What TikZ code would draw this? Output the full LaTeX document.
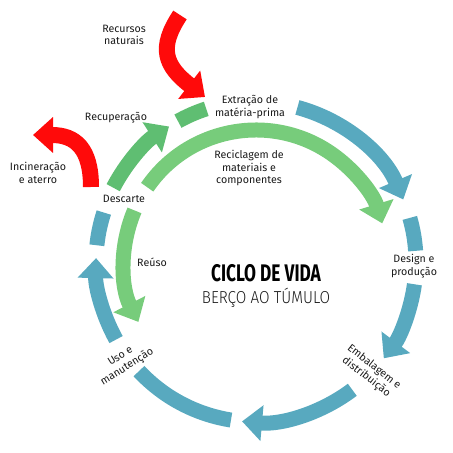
\documentclass[tikz,border=0pt]{standalone}
\usepackage{fontspec}
\setmainfont{Fira Sans}
\newfontfamily\titlefont{Fira Sans}[FakeStretch=0.72]
\newfontfamily\subtitlefont{Fira Sans Light}[FakeStretch=0.88]
\usetikzlibrary{arrows.meta,calc}
\definecolor{CycleBlue}{HTML}{58A9BF}
\definecolor{CycleGreen}{HTML}{5FBE72}
\definecolor{CycleLightGreen}{HTML}{77CC7B}
\definecolor{CycleRed}{HTML}{FF0A0A}
\definecolor{CycleText}{HTML}{1A1A1A}

\begin{document}
\begin{tikzpicture}[x=0.75pt,y=0.75pt,
    band/.style={line width=11.25pt},
    bigtip/.style={-{Triangle[width=26pt,length=15pt]}},
    lbl/.style={text=CycleText,font=\fontsize{8}{9.5}\selectfont,align=center,inner sep=1pt}]
  \useasboundingbox (0,0) rectangle (453,453);
  \coordinate (C) at (256,191);
  % anel azul
  \draw[CycleBlue,band,bigtip] ($(C)+(75:160)$) arc[start angle=75,end angle=23,radius=160];
  \draw[CycleBlue,band] ($(C)+(16:160)$) arc[start angle=16,end angle=4,radius=160];
  \draw[CycleBlue,band,bigtip] ($(C)+(-8:160)$) arc[start angle=-8,end angle=-37,radius=160];
  \draw[CycleBlue,band,bigtip] ($(C)+(-53:160)$) arc[start angle=-53,end angle=-95,radius=160];
  \draw[CycleBlue,band] ($(C)+(-99:160)$) arc[start angle=-99,end angle=-137,radius=160];
  \draw[CycleBlue,band,bigtip] ($(C)+(209:160)$) arc[start angle=209,end angle=178.6,radius=160];
  \draw[CycleBlue,band] ($(C)+(174:160)$) arc[start angle=174,end angle=162,radius=160];
  % retornos verdes
  \draw[CycleGreen,band,bigtip] ($(C)+(152.5:161)$) arc[start angle=152.5,end angle=122.7,radius=161];
  \draw[CycleGreen,band] ($(C)+(119:161)$) arc[start angle=119,end angle=108,radius=161];
  \draw[CycleLightGreen,band,bigtip] ($(C)+(145.5:132)$) arc[start angle=145.5,end angle=17,radius=132];
  \draw[CycleLightGreen,band,bigtip] ($(C)+(157:132)$) arc[start angle=157,end angle=207,radius=132];
  % entradas e saidas
  \draw[CycleRed,line width=12pt,bigtip] (180,438) .. controls (158,405) and (165,387) .. (205,356);
  \draw[CycleRed,line width=12pt,bigtip] (91,266) .. controls (91,305) and (75,318) .. (33,318);
  % textos
  \node[lbl] (recursos) at (124,418) {Recursos\\naturais};
  \node[lbl] (incineracao) at (38,280) {Incineração\\e aterro};
  \node[lbl] (recuperacao) at (116,335) {Recuperação};
  \node[lbl] (extracao) at (250,346) {Extração de\\matéria-prima};
  \node[lbl] (reciclagem) at (249,285) {Reciclagem de\\materiais e\\componentes};
  \node[lbl] (descarte) at (124,254) {Descarte};
  \node[lbl] (design) at (414,187) {Design e\\produção};
  \node[lbl,rotate=-38] (embalagem) at (370,81) {Embalagem e\\distribuição};
  \node[lbl,rotate=32] (uso) at (124,91) {Uso e\\manutenção};
  \node[lbl] (reuso) at (152,191) {Reúso};
  \node[text=black,font=\titlefont\bfseries\fontsize{18}{20}\selectfont,inner sep=0pt] (titulo) at (266,180) {CICLO DE VIDA};
  \node[text=CycleText,font=\subtitlefont\fontsize{13}{15}\selectfont,inner sep=0pt] (subtitulo) at (266,155) {BERÇO AO TÚMULO};
\end{tikzpicture}
\end{document}
